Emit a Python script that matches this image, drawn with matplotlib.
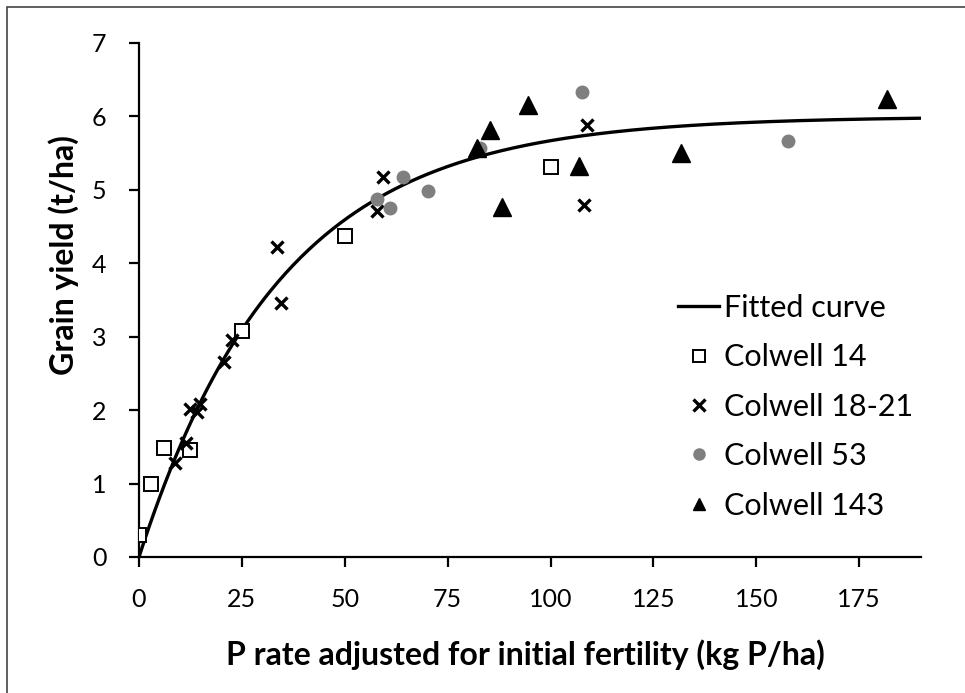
import numpy as np
import matplotlib
matplotlib.use('Agg')
import matplotlib.pyplot as plt
from matplotlib.patches import Rectangle

plt.rcParams['font.family'] = ['Lato', 'DejaVu Sans']

# data
c14_x = [0, 3, 6, 12.3, 25, 50, 100]
c14_y = [0.30, 1.00, 1.48, 1.46, 3.08, 4.37, 5.31]

c18_x = [8.7, 11.4, 12.3, 14.1, 14.8, 20.6, 22.5, 33.5, 34.6, 57.8, 59.2, 108.1, 108.8]
c18_y = [1.28, 1.55, 2.02, 1.98, 2.08, 2.66, 2.96, 4.22, 3.46, 4.71, 5.18, 4.80, 5.88]

c53_x = [57.8, 61.0, 64.1, 70.1, 82.8, 107.7, 157.6]
c53_y = [4.88, 4.75, 5.18, 4.99, 5.57, 6.33, 5.67]

c143_x = [82.1, 85.2, 88.3, 94.4, 106.8, 131.8, 181.8]
c143_y = [5.57, 5.82, 4.76, 6.16, 5.32, 5.50, 6.24]

# fitted curve: y = a * (1 - exp(-b * x))
fit_a = 6.0
fit_b = 0.029
fit_x = np.linspace(0, 190, 300)
fit_y = fit_a * (1 - np.exp(-fit_b * fit_x))

fig = plt.figure(figsize=(9.65, 6.93), dpi=100)
ax = fig.add_axes([139 / 965, 136 / 693, (921 - 139) / 965, 514 / 693])

ax.plot(fit_x, fit_y, color='black', lw=2.4, label='Fitted curve', zorder=2)
ax.plot(c14_x, c14_y, ls='none', marker='s', ms=10, mfc='white', mec='black',
        mew=1.4, label='Colwell 14', zorder=3)
ax.plot(c18_x, c18_y, ls='none', marker='x', ms=9, mec='black', mew=2.4,
        label='Colwell 18-21', zorder=3)
ax.plot(c53_x, c53_y, ls='none', marker='o', ms=9, mfc='#7f7f7f', mec='#7f7f7f',
        label='Colwell 53', zorder=3)
ax.plot(c143_x, c143_y, ls='none', marker='^', ms=13, mfc='black', mec='black',
        label='Colwell 143', zorder=4)

ax.set_xlim(0, 190)
ax.set_ylim(0, 7)
ax.set_xticks(range(0, 176, 25))
ax.set_yticks(range(0, 8))
for s in ['top', 'right']:
    ax.spines[s].set_visible(False)
for s in ['left', 'bottom']:
    ax.spines[s].set_linewidth(1.6)
ax.tick_params(direction='out', length=7.5, width=1.6, labelsize=18)
ax.tick_params(axis='x', pad=15)
ax.tick_params(axis='y', pad=16)

fig.text(525 / 965, 1 - 655 / 693, 'P rate adjusted for initial fertility (kg P/ha)',
         fontsize=23, fontweight='bold', ha='center', va='center')
fig.text(64 / 965, 1 - 255 / 693, 'Grain yield (t/ha)', fontsize=23,
         fontweight='bold', rotation=90, ha='center', va='center')

leg = fig.legend(loc='upper left', bbox_to_anchor=(678 / 965, 1 - 294 / 693),
                 frameon=False, fontsize=22, handlelength=1.35, handletextpad=0.15,
                 labelspacing=0.7, borderpad=0, borderaxespad=0)
for h in leg.legend_handles[1:]:
    h.set_markersize(8)

fig.patches.append(Rectangle((7 / 965, -0.05), 1.1, 1 - 7 / 693 + 0.05,
                             transform=fig.transFigure, fill=False,
                             edgecolor='#444444', lw=1.2))

fig.savefig('out.png', dpi=100)
plt.close(fig)
